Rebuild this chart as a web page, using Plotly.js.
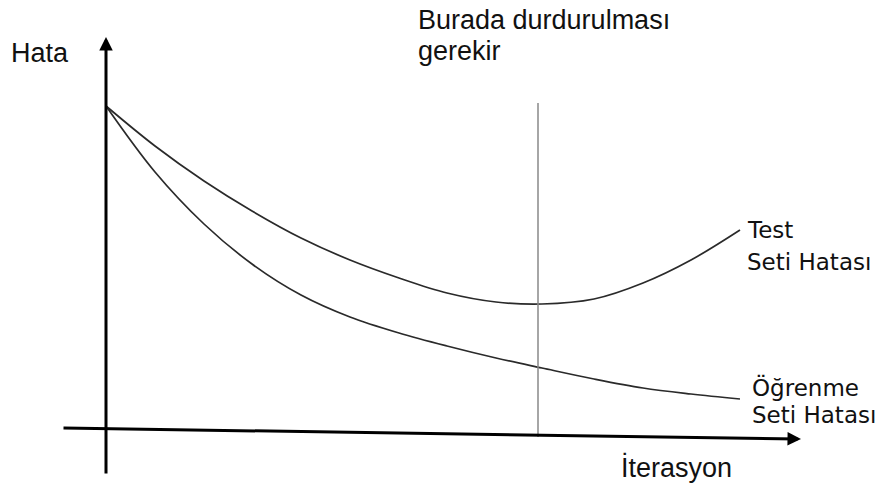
<!DOCTYPE html>
<html>
<head>
<meta charset="utf-8">
<script src="https://cdn.plot.ly/plotly-3.0.1.min.js"></script>
<style>html,body{margin:0;padding:0;background:#fff;}#chart{width:891px;height:484px;}</style>
</head>
<body>
<div id="chart"></div>
<script>
// Schematic data (x: iteration, y: error, arbitrary units)
const iterations = [0, 49, 98, 146, 195, 244, 293, 341, 390, 436, 488, 537, 585, 634];
const testError  = [322, 282, 247, 217, 190, 168, 150, 135, 126, 124, 129, 145, 168, 198];
const trainError = [322, 256, 204, 164, 133, 111, 95, 82, 70, 60, 49, 40, 34, 29];
const stopIteration = 432;
const stopLineRange = [-9, 325];

const labels = {
  yTitle: 'Hata',
  xTitle: 'İterasyon',
  stop: ['Burada durdurulması', 'gerekir'],
  test: ['Test', 'Seti Hatası'],
  train: ['Öğrenme', 'Seti Hatası']
};

const W = 891, H = 484;
const px = v => v / W;
const py = v => 1 - v / H;

const curveLine = {color: '#2a2a2a', width: 1.7, shape: 'spline', smoothing: 1};

const traces = [
  {x: iterations, y: testError, mode: 'lines', line: curveLine, hoverinfo: 'skip'},
  {x: iterations, y: trainError, mode: 'lines', line: curveLine, hoverinfo: 'skip'},
  {x: [stopIteration, stopIteration], y: stopLineRange, mode: 'lines',
   line: {color: '#888', width: 1.5}, hoverinfo: 'skip'}
];

const sansFont = {family: 'Liberation Sans, Arial, sans-serif', size: 27, color: '#111'};
const verdFont = {family: 'DejaVu Sans, Verdana, sans-serif', size: 23, color: '#111'};

function txt(text, x, y, font) {
  return {text: text, xref: 'paper', yref: 'paper', x: px(x), y: py(y),
          xanchor: 'left', yanchor: 'middle', showarrow: false, font: font};
}
function arrow(x, y, ax, ay) {
  return {text: '', x: x, y: y, ax: ax, ay: ay, xref: 'x', yref: 'y', axref: 'x', ayref: 'y',
          showarrow: true, arrowhead: 2, arrowsize: 0.9, arrowwidth: 3, arrowcolor: '#000', standoff: 0};
}

const annotations = [
  arrow(0, 391, 0, -47),      // vertical axis
  arrow(695, -11, -44, 0),    // horizontal axis (slightly tilted)
  txt(labels.yTitle, 9, 53, sansFont),
  txt(labels.xTitle, 619, 467, sansFont),
  txt(labels.stop[0], 416, 20, sansFont),
  txt(labels.stop[1], 416, 51, sansFont),
  txt(labels.test[0], 745, 230, verdFont),
  txt(labels.test[1], 745, 262, verdFont),
  txt(labels.train[0], 750, 387, verdFont),
  txt(labels.train[1], 750, 415, verdFont)
];

const layout = {
  width: W, height: H,
  margin: {l: 0, r: 0, t: 0, b: 0, pad: 0},
  paper_bgcolor: '#fff', plot_bgcolor: '#fff',
  showlegend: false,
  xaxis: {range: [-106, 785], visible: false, fixedrange: true},
  yaxis: {range: [-56, 428], visible: false, fixedrange: true},
  annotations: annotations
};

Plotly.newPlot('chart', traces, layout, {staticPlot: true, displayModeBar: false});
</script>
</body>
</html>
